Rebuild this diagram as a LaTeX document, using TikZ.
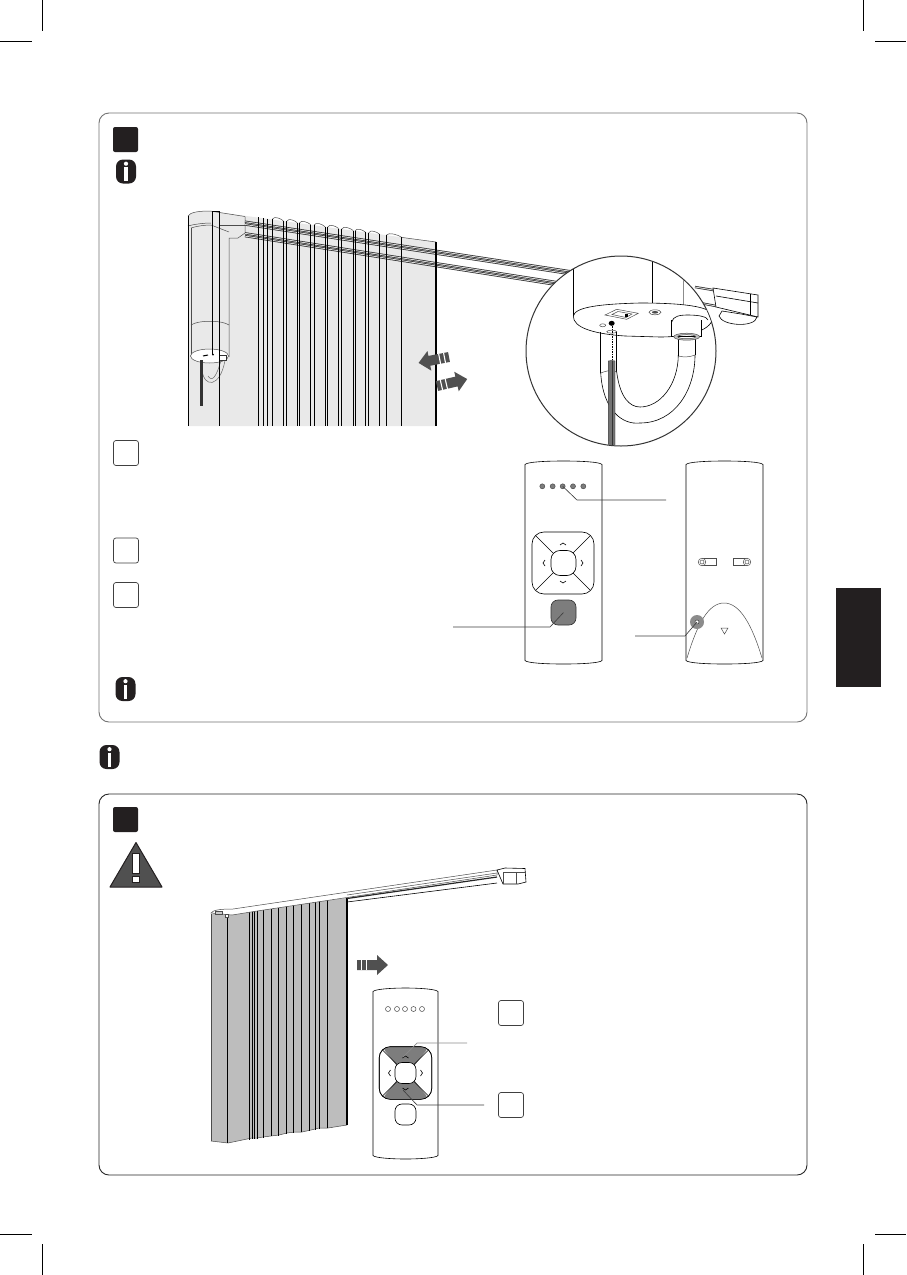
\documentclass[tikz,border=0pt]{standalone}
\usepackage{xcolor}
\definecolor{inkdark}{RGB}{35,31,32}
\definecolor{curtainlight}{RGB}{233,233,233}
\definecolor{curtaingrey}{RGB}{189,189,189}
\definecolor{arrowgrey}{RGB}{80,80,80}
\definecolor{buttongrey}{RGB}{125,125,125}
\usetikzlibrary{positioning, fit, shapes, arrows.meta}
\newcommand{\infoicon}[3]{
  \node[infopill] (#1) at (#2,#3) {};
  \fill[white] (#2-1.7,#3-4.3) rectangle (#2+1.7,#3+9.7);
  \fill[white] (#2,#3-7.8) circle (2.1);
}
\newcommand{\movearrow}[4]{
  \begin{scope}[shift={(#1,#2)}, rotate=#3, xscale=#4]
    \fill[arrowgrey] (0,-5) -- (20,-5) -- (20,-10) -- (31,0) -- (20,10) -- (20,5) -- (0,5) -- cycle;
    \foreach \sx in {4,9} \fill[white] (\sx,-5.2) rectangle (\sx+1.1,5.2);
  \end{scope}
}
\newcommand{\remotebody}[4]{
  \draw[remoteline] (#1,#4-3.5) -- (#1,#3+3.5) .. controls (#1+2,#3+1) and (#1+20,#3) .. ({(#1+#2)/2},#3)
    .. controls (#2-20,#3) and (#2-2,#3+1) .. (#2,#3+3.5) -- (#2,#4-3.5)
    .. controls (#2-2,#4-1) and (#2-20,#4) .. ({(#1+#2)/2},#4)
    .. controls (#1+20,#4) and (#1+2,#4-1) .. cycle;
}
\newcommand{\dpadmarks}[5]{
  \foreach \sa/\sb in {1/1,1/-1,-1/1,-1/-1}
    \draw[remoteline] (#1+\sa*#4*0.8,#2+\sb*#4*0.8) -- (#1+\sa*#3*0.87,#2+\sb*#3*0.87);
  \draw[remoteline] (#1-3,#2-#5+2) -- (#1,#2-#5) -- (#1+3,#2-#5+2);
  \draw[remoteline] (#1-3,#2+#5-2) -- (#1,#2+#5) -- (#1+3,#2+#5-2);
  \draw[remoteline] (#1-#5+2,#2-3) -- (#1-#5,#2) -- (#1-#5+2,#2+3);
  \draw[remoteline] (#1+#5-2,#2-3) -- (#1+#5,#2) -- (#1+#5-2,#2+3);
}
\begin{document}
\begin{tikzpicture}[x=1pt, y=-1pt,
  panelbox/.style={rectangle, draw=#1, line width=0.9pt, rounded corners=10pt, minimum width=708pt, inner sep=0pt},
  stephead/.style={rectangle, fill=inkdark, rounded corners=2pt, minimum size=25pt, inner sep=0pt},
  substep/.style={rectangle, draw=black!75, fill=white, line width=0.7pt, rounded corners=2.5pt, minimum size=25pt, inner sep=0pt},
  infopill/.style={rectangle, fill=inkdark, rounded corners=7pt, minimum width=20pt, minimum height=24pt, inner sep=0pt},
  sidetab/.style={rectangle, fill=inkdark, minimum width=45pt, minimum height=99pt, inner sep=0pt},
  cropmark/.style={black, line width=0.6pt},
  curtline/.style={black, line width=0.75pt},
  thinline/.style={black!70, line width=0.5pt},
  railline/.style={black!85, line width=0.7pt, double=black!15, double distance=0.9pt},
  remoteline/.style={black, line width=0.6pt},
  leader/.style={black!75, line width=0.65pt},
  keybtn/.style={rectangle, draw=black, fill=#1, line width=0.65pt, inner sep=0pt},
  led/.style={circle, draw=black!70, fill=#1, line width=0.5pt, minimum size=5pt, inner sep=0pt}
]
\useasboundingbox (0,0) rectangle (906,1275);
\fill[white] (0,0) rectangle (906,1275);

\draw[cropmark] (0,41) -- (32,41);
\draw[cropmark] (42,0) -- (42,31);
\draw[cropmark] (875,41) -- (906,41);
\draw[cropmark] (863,0) -- (863,31);
\draw[cropmark] (0,1234) -- (32,1234);
\draw[cropmark] (42,1244) -- (42,1275);
\draw[cropmark] (875,1234) -- (906,1234);
\draw[cropmark] (863,1244) -- (863,1275);

\node[sidetab] (tab) at (858.5,637.5) {};
\node[panelbox=black!55, minimum height=609pt] (panelone) at (453,417.5) {};
\node[panelbox=black!85, minimum height=381pt] (paneltwo) at (453,984.5) {};
\node[stephead] (headone) at (125.5,139.5) {};
\node[stephead] (headtwo) at (125.5,819.5) {};
\infoicon{infoa}{126}{171.5}
\infoicon{infob}{125.5}{689}
\infoicon{infoc}{109.5}{757}
\node[substep] (suba) at (126,453) {};
\node[substep] (subb) at (126,550.5) {};
\node[substep] (subc) at (126,595) {};
\node[substep] (subd) at (511,1013) {};
\node[substep] (sube) at (511,1105) {};

% warning sign
\fill[arrowgrey, draw=inkdark, line width=1pt, line join=round] (136,842.5) -- (162,887) -- (110,887) -- cycle;
\fill[white, draw=inkdark, line width=0.4pt] (132.5,853) rectangle (139.5,873);
\fill[white, draw=inkdark, line width=0.4pt] (132.5,876) rectangle (139.5,882);

% first curtain
\fill[curtainlight] (188,216) .. controls (190,212) and (200,211) .. (210,211) -- (436,242) -- (436,426) -- (188,426) -- cycle;
\draw[thinline] (188,216) .. controls (190,212) and (200,211) .. (210,211) -- (245,216.5);
\draw[thinline] (188,226) .. controls (195,224) and (205,223) .. (211,223);
\draw[thinline] (191,228) .. controls (197,226) and (205,225) .. (211,225) -- (229,232);
\draw[thinline] (245,216.5) -- (245,233) -- (238,238) -- (229,238) -- (229,357);
\draw[thinline] (219,225) -- (245,225);
\draw[thinline] (191,228) -- (191,357);
\draw[thinline] (191,325) .. controls (198,320) and (222,320) .. (229,325);
\draw[thinline, fill=white] (209.5,356) ellipse (19 and 7);
\draw[black, line width=1pt] (203,356) -- (208,355);
\fill[black] (213,354.5) circle (1);
\draw[black!80, fill=white, line width=0.5pt] (219,355) rectangle (226,360.5);
\draw[black!60, line width=0.5pt] (202,370) .. controls (204,388) and (220,388) .. (225,360.5);
\draw[black!60, line width=0.5pt] (208,376) .. controls (212,382) and (216,378) .. (221,360.5);
\draw[black!80, line width=2.2pt] (201.5,360) -- (201.5,406);
\draw[railline] (245,221.7) -- (572,271.5);
\draw[railline] (245,224.5) -- (572,274.3);
\draw[railline] (245,233.3) -- (556,282);
\draw[railline] (245,236.1) -- (556,284.8);
\foreach \lx/\rx in {272.3/283.3,286.7/297.3,299.3/310.7,314/325,327.7/338.7,341.7/353.3,355/365.7,368.7/379.7,386.3/401.7}
  \draw[thinline] (\lx,217.3+\lx*0.14-258.3*0.14) .. controls (\lx+2,213.8+\lx*0.14-258.3*0.14) and (\rx-3,214.8+\rx*0.14-258.3*0.14) .. (\rx,217.3+\rx*0.14-258.3*0.14);
\draw[thinline] (401.7,237.4) -- (436,242);
\foreach \lx in {258.3,263.3,267.7,272.3,283.3,286.7,297.3,299.3,310.7,314,325,327.7,338.7,341.7,353.3,355,365.7,368.7,379.7,386.3,401.7}
  \draw[curtline] (\lx,217.3+\lx*0.14-258.3*0.14) -- (\lx,426);
\draw[curtline] (188.3,216) -- (188.3,426);
\draw[curtline] (212.7,211) -- (212.7,355);
\draw[curtline] (219.3,211) -- (219.3,426);
\draw[black, line width=1.2pt] (436,242) -- (436,426);
\draw[curtline] (212.7,211) -- (219.3,211);
\movearrow{449}{357}{191}{1}
\movearrow{437}{386}{13}{1}

% end bracket of first rail
\draw[railline] (695,287) -- (713,290);
\draw[railline] (700,303) -- (716,306);
\draw[remoteline, fill=white] (713,288) -- (758,295) -- (758,317) -- (716,307) -- cycle;
\draw[remoteline] (750,294) -- (750,315);
\draw[remoteline] (716,296) -- (758,303);
\draw[remoteline, fill=white] (719,316) .. controls (722,326) and (755,328) .. (757,317) -- (741,314) -- (722,311) -- cycle;

% magnifier
\node[circle, draw=black!80, fill=white, line width=1pt, minimum size=190pt, inner sep=0pt] (lens) at (621,351) {};
\begin{scope}
  \clip (lens.center) circle (94.5);
  \draw[curtline] (573.3,260) -- (573.3,316);
  \draw[curtline] (652.3,256) -- (652.3,304);
  \draw[black!45, line width=0.6pt] (683.5,275) -- (683.5,310);
  \draw[remoteline, fill=white] (573.3,316) .. controls (575,307) and (600,304) .. (640,303) .. controls (680,303) and (712,306) .. (713,316) .. controls (713,330) and (690,337) .. (660,337) -- (625,336) .. controls (595,334) and (573,328) .. (573.3,316);
  \draw[thinline] (605,315) -- (616.7,309.3) -- (638.3,313.3) -- (626.7,319.3) -- cycle;
  \draw[thinline] (612,314.5) -- (618,311.5) -- (632,314) -- (626,317.5) -- cycle;
  \fill[black] (624.5,313.5) rectangle (627.5,316.5);
  \draw[thinline, fill=white] (655,312.3) ellipse (6 and 2.5);
  \fill[black!70] (655,312.3) ellipse (3.2 and 1.3);
  \fill[black] (611.7,323.3) ellipse (3 and 2.5);
  \draw[thinline] (602.7,325.3) ellipse (3 and 1.5);
  \draw[thinline] (611.7,331.7) ellipse (5 and 1.5);
  \draw[curtline] (600.7,332) -- (600.7,373);
  \draw[curtline] (616.7,332) -- (616.7,372);
  \draw[black, dashed, line width=0.4pt, dash pattern=on 1.5pt off 1pt] (611.7,326) -- (611.7,361);
  \draw[thinline] (600.7,373) .. controls (606,371) and (612,369) .. (616.7,372);
  \draw[remoteline] (600.7,373) .. controls (603,410) and (622,425) .. (640,423) .. controls (675,423) and (695,390) .. (695,355);
  \draw[remoteline] (616.7,372) .. controls (620,398) and (630,407) .. (640,407) .. controls (660,407) and (678,385) .. (678.3,355);
  \draw[thinline] (678.3,356) .. controls (684,357.5) and (690,357) .. (695,355);
  \draw[curtline] (678.3,337) -- (678.3,356);
  \draw[curtline] (695,337) -- (695,355);
  \fill[black!55, draw=black!80, line width=0.4pt] (608.3,361) -- (611.7,360.5) -- (615,361) -- (615,450) -- (608.3,450) -- cycle;
  \draw[black!80, line width=0.4pt] (611.7,361) -- (611.7,450);
  \draw[remoteline, fill=white] (671.7,320) -- (671.7,336.7) -- (701.7,336.7) -- (701.7,320);
  \draw[remoteline] (671.7,322) .. controls (673,316) and (680,315) .. (688,315) .. controls (700,315) and (707,317) .. (708,320);
  \draw[thinline, fill=black!25, even odd rule] (686.7,336.7) ellipse (13 and 3.5) (686.7,336.7) ellipse (9 and 2);
\end{scope}

% front remote
\remotebody{525}{602}{461}{664}
\foreach \i/\lx in {1/542.3,2/552.7,3/562.7,4/573,5/583.3}
  \node[led=buttongrey] (leda\i) at (\lx,486.3) {};
\node[keybtn=white, minimum size=62pt, rounded corners=12pt] (dpada) at (563,563) {};
\node[keybtn=white, minimum size=25pt, rounded corners=9pt] (oka) at (563.5,563) {};
\dpadmarks{563}{563}{31}{12.5}{20}
\node[keybtn=buttongrey, draw=black!80, minimum size=25pt, rounded corners=7pt] (stopa) at (563.5,612.5) {};
\coordinate (ledend) at (666,500);
\coordinate (ledbend) at (577,500);
\coordinate (stopend) at (453,627);
\coordinate (stopbend) at (550,627);
\draw[leader] (ledend) -- (ledbend) -- (leda3.center);
\draw[leader] (stopend) -- (stopbend) -- (stopa.center);

% back remote
\remotebody{686}{763}{461}{664}
\draw[thinline] (687,658) .. controls (697,625) and (708,603) .. (724,603) .. controls (740,603) and (752,625) .. (762,658);
\draw[black!70, line width=0.5pt] (721,628) -- (728,628) -- (724.5,634) -- cycle;
\foreach \sx/\sy in {702/716,747/733} {
  \draw[thinline] (\sx,558.5) -- (\sy,558.5) -- (\sy,565.5) -- (\sx,565.5);
  \draw[thinline, fill=white] (\sx,562) circle (3.8);
  \draw[thinline] (\sx,562) circle (2);
}
\node[circle, fill=black!45, minimum size=14pt, inner sep=0pt] (resethalo) at (697,622) {};
\node[circle, draw=black!80, fill=white, line width=0.5pt, minimum size=4pt, inner sep=0pt] (resetpin) at (697,622) {};
\coordinate (resetend) at (635,636);
\coordinate (resetbend) at (685,636);
\draw[leader] (resetend) -- (resetbend) -- (resetpin.center);

% second curtain
\fill[curtaingrey] (211,914) -- (347,898) -- (347,1125) -- (328,1128) -- (319,1128) -- (311,1130) -- (302,1132) -- (295,1132) -- (287,1133) -- (279,1135) -- (271,1136) -- (263,1137) -- (257,1138) -- (252,1138) -- (228,1143) -- (211,1141) -- cycle;
\draw[thinline] (211,1141) -- (228,1143) -- (252,1138) -- (257,1138) -- (263,1137) -- (271,1136) -- (279,1135) -- (287,1133) -- (295,1132) -- (302,1132) -- (311,1130) -- (319,1128) -- (328,1128) -- (347,1125);
\foreach \lx in {227.5,249,252,254,257,263,271.5,278,286,293.5,301,309,315,319,327}
  \draw[black, line width=0.6pt] (\lx,914-\lx*0.118+211*0.118) -- (\lx,1143-\lx*0.15+228*0.15);
\draw[thinline] (211,914) -- (211,1141);
\draw[black, line width=1.1pt] (347,898) -- (347,1125);
\draw[thinline, fill=white] (211,913) .. controls (213,910) and (220,909) .. (233,909) -- (497,870) -- (497,875) -- (257,911) -- (232,915) -- cycle;
\draw[thinline, fill=black!20] (215,911) rectangle (222,914);
\draw[thinline, fill=white] (225,914) rectangle (228,917);
\draw[thinline] (347,895) -- (497,873);
\draw[black!85, line width=1.2pt] (347,898.5) -- (497,877);
\draw[remoteline] (347,902) -- (497,883);
\draw[remoteline, fill=white] (497,870) -- (505,868) -- (525,868.5) -- (526,882) -- (518,884) -- (503,884) -- cycle;
\draw[thinline] (503,872) -- (526,872);
\draw[thinline] (503,872) -- (503,884);
\draw[thinline] (516,872) -- (516,884);
\movearrow{357}{965}{0}{1}

% small remote
\remotebody{373}{438}{988}{1159}
\foreach \i/\lx in {1/388,2/397,3/405,4/413.5,5/422}
  \node[led=white] (ledb\i) at (\lx,1009) {};
\node[keybtn=white, minimum size=52.5pt, rounded corners=11pt] (dpadb) at (405.5,1073) {};
\fill[buttongrey, rounded corners=2pt] (383.5,1049) -- (388,1047) -- (423,1047) -- (427.5,1049) -- (414,1066) -- (397,1066) -- cycle;
\fill[buttongrey, rounded corners=2pt] (383.5,1097) -- (388,1099) -- (423,1099) -- (427.5,1097) -- (414,1080) -- (397,1080) -- cycle;
\draw[remoteline, rounded corners=11pt] (379.2,1046.7) rectangle (431.8,1099.3);
\dpadmarks{405.5}{1073}{26.2}{10.5}{17}
\node[keybtn=white, minimum size=21pt, rounded corners=7pt] (okb) at (405.5,1073) {};
\node[keybtn=white, minimum size=21pt, rounded corners=7pt] (stopb) at (405.5,1114.5) {};
\coordinate (upkey) at (403,1057);
\coordinate (downkey) at (403,1090);
\coordinate (upend) at (467,1043);
\coordinate (upbend) at (417,1043);
\coordinate (downend) at (484,1105);
\coordinate (downbend) at (417,1105);
\draw[black!45, line width=0.7pt] (upend) -- (upbend) -- (upkey);
\draw[leader] (downend) -- (downbend) -- (downkey);
\end{tikzpicture}
\end{document}
